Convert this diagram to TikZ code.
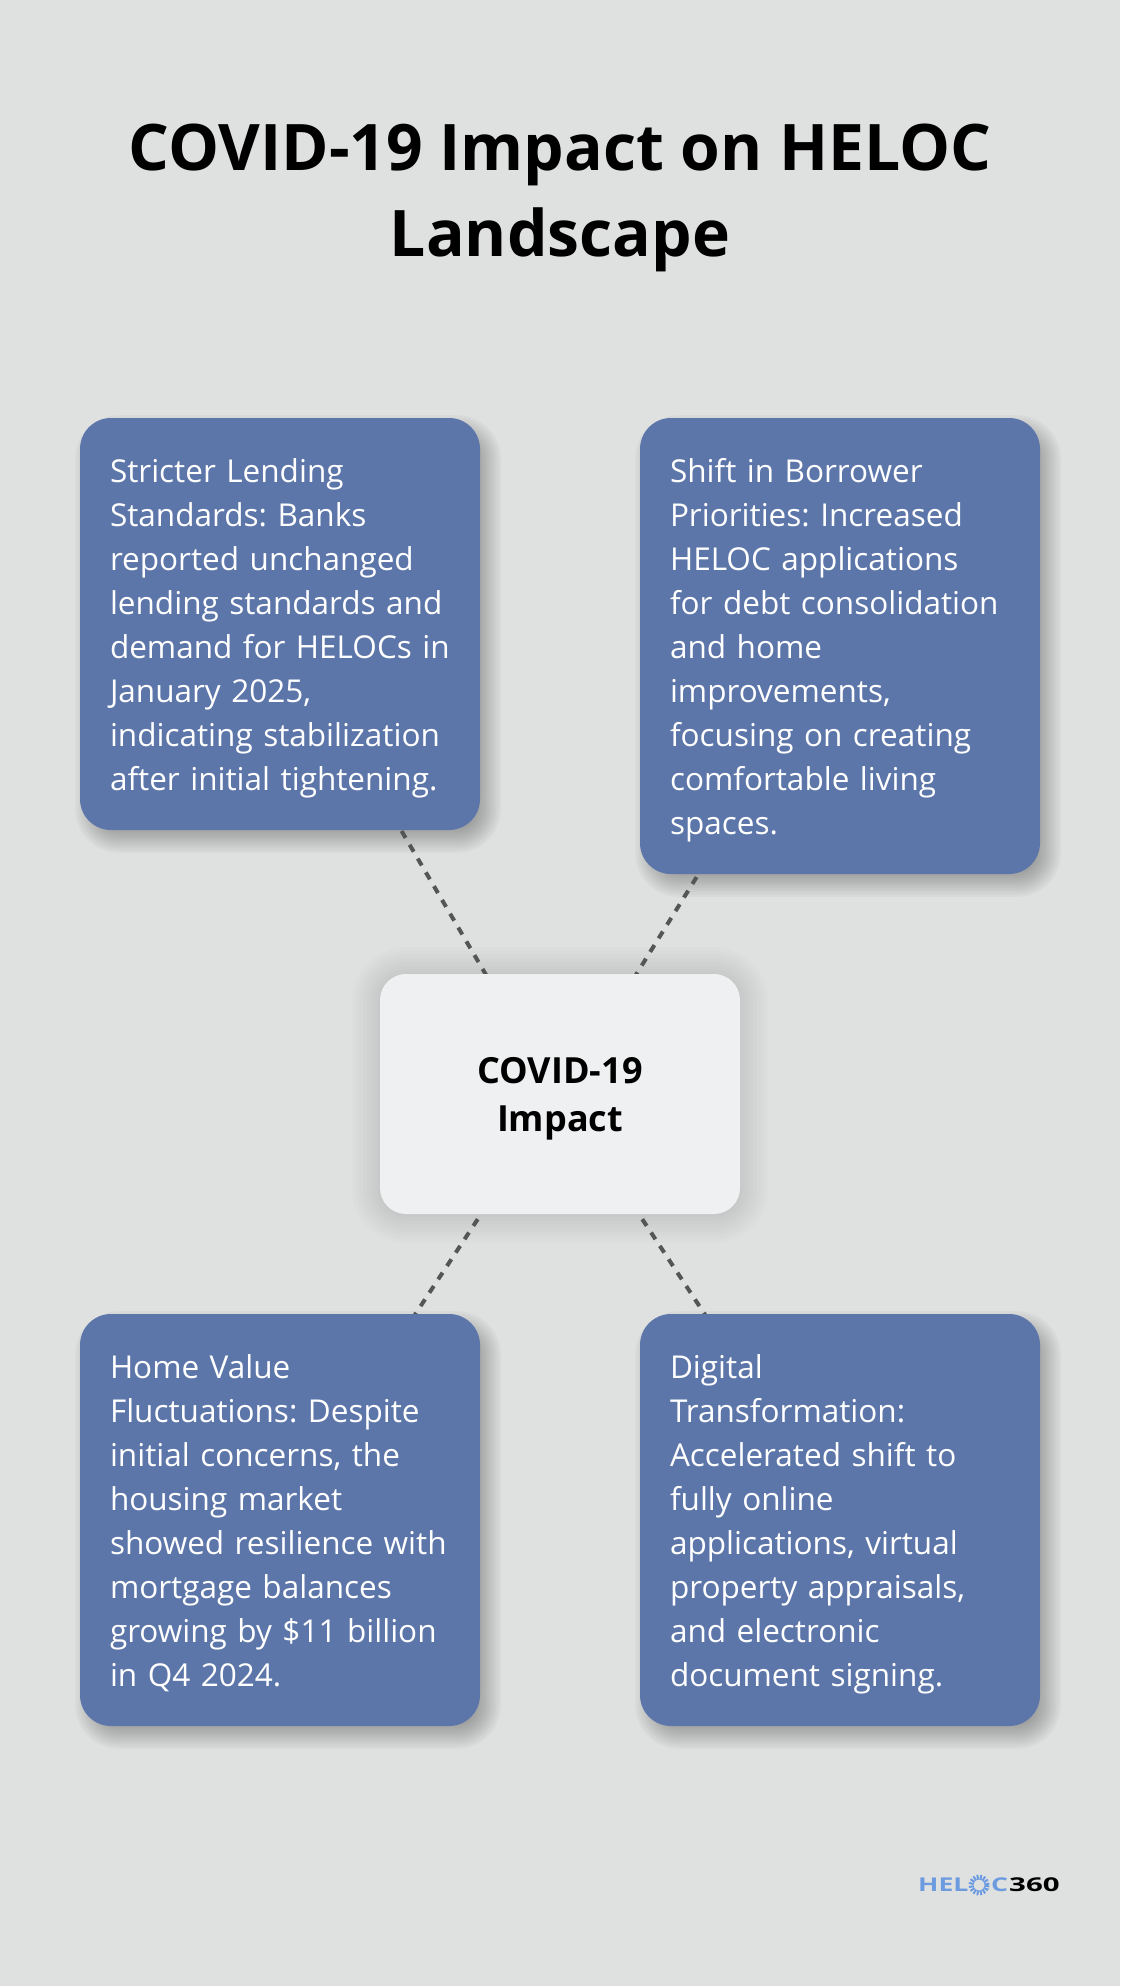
\documentclass[tikz,border=0pt]{standalone}
\usepackage{fontspec}
\setmainfont{Open Sans}
\usetikzlibrary{calc}
\definecolor{pagebg}{HTML}{DFE1E0}
\definecolor{cardblue}{HTML}{5D76A9}
\definecolor{hubfill}{HTML}{EEF0F2}
\definecolor{dashgrey}{HTML}{555555}
\definecolor{logoblue}{HTML}{6C9BE0}
\pgfdeclarelayer{shadowlayer}
\pgfdeclarelayer{linklayer}
\pgfsetlayers{shadowlayer,linklayer,main}
\newcommand{\softshadow}[8]{% x0 x1 y0 y1 radius blur alpha steps
  \foreach \i in {1,...,#8}{
    \pgfmathsetmacro{\g}{#6*(1-2*(\i-0.5)/#8)}
    \pgfmathsetmacro{\rr}{max(2,#5+\g)}
    \fill[black,opacity=#7,rounded corners=\rr pt] (#1-\g,#3-\g) rectangle (#2+\g,#4+\g);
  }}
\newcommand{\cardtop}{\rule{0pt}{32pt}}
\newcommand{\cardend}{\rule[-7pt]{0pt}{7pt}}
\tikzset{
  x=1pt,y=-1pt,
  cardbox/.style={fill=cardblue,text=white,rounded corners=31pt,minimum width=400pt,
    text width=340pt,inner xsep=30pt,inner ysep=0pt,align=left,anchor=center,
    font=\fontsize{31.5}{44}\selectfont\frenchspacing},
  hubbox/.style={fill=hubfill,text=black,rounded corners=26pt,minimum width=360pt,minimum height=240pt,
    align=center,inner sep=0pt,font=\fontsize{36}{48}\selectfont\bfseries},
  titletext/.style={text=black,align=center,inner sep=0pt,font=\fontsize{64.2}{86}\selectfont\bfseries},
  linkline/.style={draw=dashgrey,line width=4pt,dash pattern=on 8pt off 8pt},
  logotext/.style={inner sep=0pt,anchor=west,font=\fontsize{19}{19}\selectfont\bfseries},
}
\begin{document}
\begin{tikzpicture}
\useasboundingbox (0,0) rectangle (1120,1986);
\begin{pgfonlayer}{shadowlayer}
  \fill[pagebg] (0,0) rectangle (1120,1986);
  \softshadow{88}{488}{428}{840}{31}{14}{0.026}{12}
  \softshadow{648}{1048}{428}{884}{31}{14}{0.026}{12}
  \softshadow{88}{488}{1324}{1736}{31}{14}{0.026}{12}
  \softshadow{648}{1048}{1324}{1736}{31}{14}{0.026}{12}
  \softshadow{380}{740}{975}{1215}{26}{30}{0.012}{16}
\end{pgfonlayer}
\node[titletext] (title) at (560,197.5) {COVID-19 Impact on HELOC\\Landscape};
\node[cardbox,minimum height=412pt] (stricter) at (280,624) {\cardtop Stricter Lending\\Standards: Banks\\reported unchanged\\lending standards and\\demand for HELOCs in\\January 2025,\\indicating stabilization\\after initial tightening.\cardend};
\node[cardbox,minimum height=456pt] (shift) at (840,646) {\cardtop Shift in Borrower\\Priorities: Increased\\HELOC applications\\for debt consolidation\\and home\\improvements,\\focusing on creating\\comfortable living\\spaces.\cardend};
\node[cardbox,minimum height=412pt] (home) at (280,1520) {\cardtop Home Value\\Fluctuations: Despite\\initial concerns, the\\housing market\\showed resilience with\\mortgage balances\\growing by \$11 billion\\in Q4 2024.\cardend};
\node[cardbox,minimum height=412pt] (digital) at (840,1520) {\cardtop Digital\\Transformation:\\Accelerated shift to\\fully online\\applications, virtual\\property appraisals,\\and electronic\\document signing.\cardend};
\node[hubbox] (hub) at (560,1094) {\rule{0pt}{36pt}COVID-19\\Impact\rule[-8pt]{0pt}{8pt}};
\begin{pgfonlayer}{linklayer}
  \draw[linkline] (stricter.center) -- ($(hub.center)+(-4,0)$);
  \draw[linkline] (shift.center) -- ($(hub.center)+(2,0)$);
  \draw[linkline] (home.center) -- (hub.center);
  \draw[linkline] (digital.center) -- (hub.center);
\end{pgfonlayer}
\node[logotext,text=logoblue] (logoa) at (918,1885) {\scalebox{1.4}[1]{HEL}};
\node[draw=logoblue,circle,line width=5pt,dash pattern=on 2pt off 1.2pt,minimum size=16pt,inner sep=0pt] (logoring) at (979,1885) {};
\node[logotext,text=logoblue] (logob) at (991,1885) {\scalebox{1.4}[1]{C}};
\node[logotext,text=black] (logoc) at (1009,1885) {\scalebox{1.55}[1]{360}};
\end{tikzpicture}
\end{document}
